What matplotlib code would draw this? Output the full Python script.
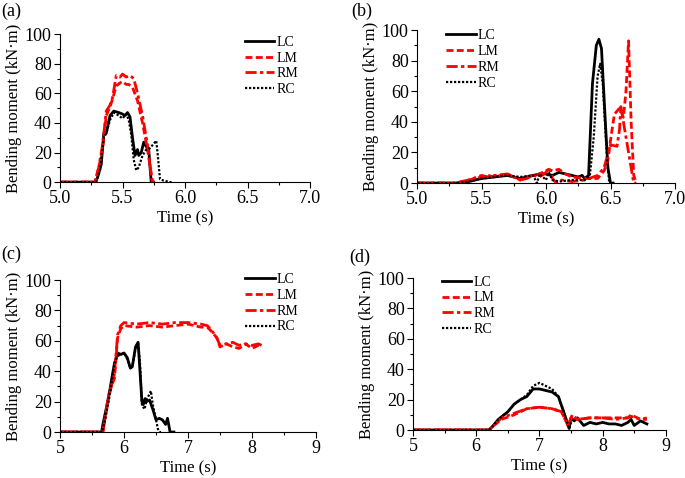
import numpy as np
import matplotlib
matplotlib.use("Agg")
import matplotlib.pyplot as plt
from matplotlib.ticker import MultipleLocator

plt.rcParams["font.family"] = ["Liberation Serif", "DejaVu Serif"]
plt.rcParams["mathtext.fontset"] = "stix"

labels = ["LC", "LM", "RM", "RC"]

# ---- panel (a) ----
a_lc_t = [5.0, 5.28, 5.30, 5.33, 5.35, 5.37, 5.38, 5.40, 5.43, 5.47, 5.50, 5.52, 5.54, 5.56,
          5.58, 5.60, 5.62, 5.63, 5.65, 5.67, 5.69, 5.71, 5.72, 5.73, 5.75]
a_lc_v = [0, 0, 3, 12, 33, 33, 37, 45, 48, 47, 46, 45, 47, 44,
          30, 18, 22, 18, 20, 27, 24, 22, 10, 0, 0]
a_lm_t = [5.0, 5.28, 5.31, 5.34, 5.37, 5.40, 5.42, 5.45, 5.48, 5.50, 5.53, 5.55, 5.58, 5.62,
          5.66, 5.70, 5.73, 5.74, 5.76]
a_lm_v = [0, 0, 10, 22, 45, 51, 56, 65, 67, 68, 66, 66, 64, 55,
          40, 22, 5, 0, 0]
a_rm_t = [5.0, 5.28, 5.31, 5.34, 5.37, 5.40, 5.42, 5.45, 5.48, 5.50, 5.53, 5.56, 5.59, 5.62,
          5.66, 5.70, 5.73, 5.74, 5.76]
a_rm_v = [0, 0, 10, 25, 48, 52, 57, 72, 71, 73, 71, 72, 70, 60,
          45, 25, 5, 0, 0]
a_rc_t = [5.0, 5.29, 5.32, 5.35, 5.37, 5.40, 5.43, 5.47, 5.50, 5.53, 5.55, 5.57, 5.59, 5.61,
          5.63, 5.66, 5.69, 5.72, 5.74, 5.77, 5.78, 5.80, 5.83, 5.88, 5.90]
a_rc_v = [0, 0, 8, 30, 33, 42, 47, 45, 43, 46, 42, 32, 15, 8,
          10, 18, 22, 23, 25, 28, 20, 2, 1, 0, 0]

# ---- panel (b) ----
b_lc_t = [5.0, 5.30, 5.40, 5.50, 5.60, 5.70, 5.80, 5.90, 5.95, 6.00, 6.05, 6.10, 6.15, 6.20,
          6.25, 6.28, 6.30, 6.33, 6.36, 6.39, 6.41, 6.43, 6.46, 6.48, 6.50, 6.52]
b_lc_v = [0, 0, 1, 3, 4, 5, 3, 5, 6, 6, 5, 7, 6, 5,
          4, 5, 3, 5, 65, 90, 94, 88, 40, 10, 0, 0]
b_lm_t = [5.0, 5.30, 5.40, 5.50, 5.55, 5.60, 5.70, 5.80, 5.85, 5.90, 5.95, 6.00, 6.02, 6.05,
          6.10, 6.15, 6.20, 6.30, 6.40, 6.45, 6.48, 6.50, 6.53, 6.57, 6.60, 6.62, 6.64,
          6.66, 6.68, 6.70]
b_lm_v = [0, 0, 2, 4, 5, 4, 6, 2, 4, 5, 6, 8, 9, 8,
          9, 6, 4, 3, 3, 8, 15, 28, 45, 49, 43, 60, 93,
          40, 5, 0]
b_rm_t = [5.0, 5.30, 5.40, 5.50, 5.55, 5.60, 5.70, 5.80, 5.85, 5.90, 5.95, 6.00, 6.02, 6.05,
          6.08, 6.12, 6.20, 6.30, 6.40, 6.45, 6.50, 6.55, 6.57, 6.58, 6.60, 6.62, 6.65,
          6.68, 6.70]
b_rm_v = [0, 0, 2, 5, 4, 5, 6, 2, 3, 5, 4, 7, 10, 3,
          0, 2, 1, 2, 5, 10, 25, 24, 35, 50, 40, 30, 15,
          0, 0]
b_rc_t = [5.0, 5.30, 5.40, 5.50, 5.60, 5.70, 5.80, 5.90, 5.93, 5.95, 6.00, 6.02, 6.05, 6.10,
          6.20, 6.30, 6.34, 6.37, 6.40, 6.42, 6.44, 6.47, 6.49, 6.51]
b_rc_v = [0, 0, 1, 3, 4, 5, 4, 5, 0, 6, 2, 7, 2, 1,
          2, 2, 5, 30, 70, 78, 65, 20, 0, 0]

# ---- panel (c) ----
c_lc_t = [5.0, 5.65, 5.67, 5.72, 5.78, 5.82, 5.85, 5.90, 5.95, 6.00, 6.05, 6.10, 6.13, 6.18,
          6.22, 6.25, 6.28, 6.30, 6.33, 6.35, 6.40, 6.45, 6.50, 6.55, 6.60, 6.65, 6.68,
          6.72, 6.78]
c_lc_v = [0, 0, 5, 15, 28, 38, 45, 52, 51, 52, 49, 42, 43, 56,
          59, 40, 20, 18, 22, 20, 21, 15, 8, 9, 8, 5, 9,
          0, 0]
c_lm_t = [5.0, 5.67, 5.70, 5.75, 5.80, 5.85, 5.90, 5.95, 6.00, 6.20, 6.40, 6.60, 6.80, 7.00,
          7.20, 7.30, 7.35, 7.45, 7.50, 7.60, 7.70, 7.80, 7.90, 8.00, 8.10, 8.15]
c_lm_v = [0, 0, 8, 20, 30, 35, 62, 68, 70, 69, 70, 69, 70, 71,
          69, 69, 67, 62, 56, 58, 56, 55, 58, 55, 57, 56]
c_rm_t = [5.0, 5.67, 5.70, 5.75, 5.80, 5.85, 5.90, 5.95, 6.00, 6.20, 6.40, 6.60, 6.80, 7.00,
          7.20, 7.30, 7.35, 7.45, 7.50, 7.60, 7.70, 7.80, 7.90, 8.00, 8.10, 8.15]
c_rm_v = [0, 0, 8, 22, 30, 38, 64, 70, 72, 71, 72, 71, 72, 72,
          71, 70, 68, 62, 57, 58, 59, 57, 58, 57, 58, 57]
c_rc_t = [5.0, 5.66, 5.69, 5.74, 5.80, 5.85, 5.90, 5.95, 6.00, 6.05, 6.10, 6.13, 6.18, 6.22,
          6.25, 6.28, 6.32, 6.36, 6.40, 6.42, 6.45, 6.50, 6.53, 6.55, 6.60]
c_rc_v = [0, 0, 5, 16, 30, 45, 50, 51, 52, 48, 42, 43, 55, 59,
          45, 18, 15, 22, 25, 27, 18, 8, 2, 0, 0]

# ---- panel (d) ----
d_lc_t = [5.0, 6.20, 6.25, 6.35, 6.50, 6.60, 6.70, 6.80, 6.90, 7.00, 7.10, 7.20, 7.30, 7.40,
          7.47, 7.50, 7.55, 7.60, 7.70, 7.80, 7.90, 8.00, 8.10, 8.20, 8.30, 8.40, 8.45,
          8.50, 8.60, 8.70]
d_lc_v = [0, 0, 2, 7, 12, 17, 20, 22, 27, 27, 26, 25, 22, 10,
          1, 8, 6, 8, 3, 5, 4, 5, 4, 4, 3, 5, 7,
          3, 6, 4]
d_lm_t = [5.0, 6.20, 6.25, 6.40, 6.60, 6.80, 7.00, 7.20, 7.35, 7.45, 7.52, 7.60, 7.80, 8.00,
          8.20, 8.40, 8.45, 8.60, 8.70]
d_lm_v = [0, 0, 2, 7, 10, 14, 15, 14, 12, 3, 10, 7, 8, 8,
          8, 8, 10, 7, 8]
d_rm_t = [5.0, 6.20, 6.25, 6.40, 6.60, 6.80, 7.00, 7.20, 7.35, 7.45, 7.52, 7.60, 7.80, 8.00,
          8.20, 8.40, 8.45, 8.60, 8.70]
d_rm_v = [0, 0, 2, 8, 11, 14, 15, 14, 12, 3, 9, 7, 8, 8,
          7, 8, 9, 7, 7]
d_rc_t = [5.0, 6.20, 6.25, 6.35, 6.50, 6.60, 6.70, 6.80, 6.90, 7.00, 7.10, 7.20, 7.30, 7.40,
          7.47, 7.50]
d_rc_v = [0, 0, 2, 7, 12, 17, 20, 23, 29, 31, 29, 27, 22, 10,
          1, 5]

styles = [
    dict(color="black", ls="-", lw=2.0),
    dict(color="red", ls=(0, (2.5, 1.2)), lw=2.0),
    dict(color="red", ls=(0, (4, 1.2, 1.2, 1.2)), lw=2.0),
    dict(color="black", ls=(0, (1, 0.8)), lw=1.6),
]

panels = [
    ("(a)", [0.0876, 0.619, 0.365, 0.3096], (5.0, 7.0), 0.5, 0.25, "%.1f",
     [(a_lc_t, a_lc_v), (a_lm_t, a_lm_v), (a_rm_t, a_rm_v), (a_rc_t, a_rc_v)],
     (0.705, 1.045), (0.002, 0.995)),
    ("(b)", [0.6088, 0.617, 0.3766, 0.320], (5.0, 7.0), 0.5, 0.25, "%.1f",
     [(b_lc_t, b_lc_v), (b_lm_t, b_lm_v), (b_rm_t, b_rm_v), (b_rc_t, b_rc_v)],
     (0.08, 1.06), (0.513, 0.995)),
    ("(c)", [0.0876, 0.0962, 0.3737, 0.318], (5, 9), 1, 0.5, "%d",
     [(c_lc_t, c_lc_v), (c_lm_t, c_lm_v), (c_rm_t, c_rm_v), (c_rc_t, c_rc_v)],
     (0.69, 1.10), (0.002, 0.485)),
    ("(d)", [0.603, 0.1004, 0.369, 0.318], (5, 9), 1, 0.5, "%d",
     [(d_lc_t, d_lc_v), (d_lm_t, d_lm_v), (d_rm_t, d_rm_v), (d_rc_t, d_rc_v)],
     (0.08, 1.07), (0.51, 0.48)),
]

fig = plt.figure(figsize=(6.85, 4.78), dpi=100)

for tag, rect, xlim, xmaj, xmin, fmt, series, legpos, tagpos in panels:
    ax = fig.add_axes(rect)
    for (t, v), lab, st in zip(series, labels, styles):
        ax.plot(t, v, label=lab, **st)
    ax.set_xlim(*xlim)
    ax.set_ylim(0, 100)
    ax.xaxis.set_major_locator(MultipleLocator(xmaj))
    ax.xaxis.set_minor_locator(MultipleLocator(xmin))
    ax.xaxis.set_major_formatter(matplotlib.ticker.FormatStrFormatter(fmt))
    ax.yaxis.set_major_locator(MultipleLocator(20))
    ax.yaxis.set_minor_locator(MultipleLocator(10))
    for s in ["top", "right"]:
        ax.spines[s].set_visible(False)
    ax.tick_params(which="major", direction="out", length=4, width=0.8, labelsize=13, pad=2)
    ax.tick_params(which="minor", direction="out", length=2, width=0.8)
    ax.set_xlabel("Time (s)", fontsize=12, labelpad=2)
    ax.set_ylabel("Bending moment (kN·m)", fontsize=12, labelpad=2)
    ax.legend(loc="upper left", bbox_to_anchor=legpos, frameon=False, fontsize=10,
              handlelength=2.15, handletextpad=0.15, labelspacing=0.2, borderpad=0.1)
    fig.text(tagpos[0], tagpos[1], tag, fontsize=13, va="top", ha="left")

fig.savefig("out.png", dpi=100)
